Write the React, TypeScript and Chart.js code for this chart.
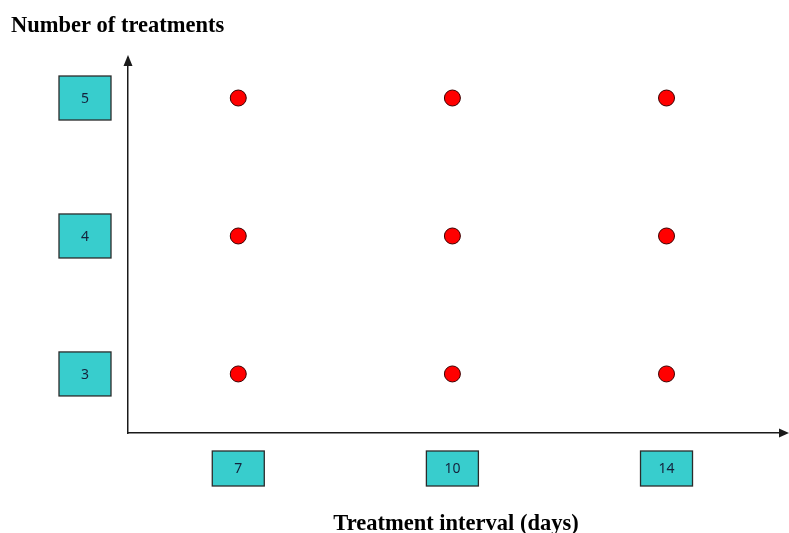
import React, { useEffect, useRef } from "react";
import { Chart, registerables } from "chart.js";

Chart.register(...registerables);

const intervalLabels = ["7", "10", "14"];
const treatmentCounts = [3, 4, 5];
const yTitle = "Number of treatments";
const xTitle = "Treatment interval (days)";

const BOX_FILL = "#38CDCD";
const BOX_STROKE = "#2b2b2b";
const BOX_TEXT = "#14223c";
const AXIS_COLOR = "#1a1a1a";

const decorPlugin = {
  id: "decor",
  afterDraw(chart: any) {
    const { ctx, chartArea, scales } = chart;
    const xs = scales.x;
    const ys = scales.y;
    ctx.save();

    // arrowheads
    ctx.fillStyle = AXIS_COLOR;
    ctx.beginPath();
    ctx.moveTo(chartArea.left, chartArea.top - 3);
    ctx.lineTo(chartArea.left - 4.5, chartArea.top + 8);
    ctx.lineTo(chartArea.left + 4.5, chartArea.top + 8);
    ctx.closePath();
    ctx.fill();

    ctx.beginPath();
    ctx.moveTo(chartArea.right + 9, chartArea.bottom);
    ctx.lineTo(chartArea.right - 1, chartArea.bottom - 4.5);
    ctx.lineTo(chartArea.right - 1, chartArea.bottom + 4.5);
    ctx.closePath();
    ctx.fill();

    const drawBox = (cx: number, cy: number, w: number, h: number, label: string) => {
      ctx.fillStyle = BOX_FILL;
      ctx.fillRect(cx - w / 2, cy - h / 2, w, h);
      ctx.strokeStyle = BOX_STROKE;
      ctx.lineWidth = 1.3;
      ctx.strokeRect(cx - w / 2, cy - h / 2, w, h);
      ctx.fillStyle = BOX_TEXT;
      ctx.font = '14px "Noto Sans"';
      ctx.textAlign = "center";
      ctx.textBaseline = "middle";
      ctx.fillText(label, cx, cy + 1);
    };

    intervalLabels.forEach((lab, i) => {
      const px = xs.getPixelForValue(i);
      drawBox(px, chartArea.bottom + 35.5, 52, 35, lab);
    });
    treatmentCounts.forEach((v) => {
      const py = ys.getPixelForValue(v);
      drawBox(chartArea.left - 43, py, 52, 44, String(v));
    });

    ctx.fillStyle = "#000";
    ctx.font = 'bold 22.5px "Liberation Serif"';
    ctx.textBaseline = "alphabetic";
    ctx.textAlign = "left";
    ctx.fillText(yTitle, 11, 32);
    ctx.textAlign = "center";
    ctx.fillText(xTitle, 456, 530);

    ctx.restore();
  },
};

export default function App() {
  const ref = useRef<HTMLCanvasElement | null>(null);

  useEffect(() => {
    if (!ref.current) return;
    const data = intervalLabels.flatMap((_, i) =>
      treatmentCounts.map((y) => ({ x: i, y }))
    );
    const chart = new Chart(ref.current, {
      type: "scatter",
      data: {
        datasets: [
          {
            data,
            pointRadius: 8,
            pointBackgroundColor: "#FF0000",
            pointBorderColor: "#3a0000",
            pointBorderWidth: 1,
          },
        ],
      },
      options: {
        animation: false,
        responsive: true,
        maintainAspectRatio: false,
        layout: { padding: { top: 58, right: 0, left: 0, bottom: 0 } },
        plugins: { legend: { display: false }, tooltip: { enabled: false } },
        scales: {
          x: {
            type: "linear",
            min: -0.515,
            max: 2.53,
            afterFit: (s: any) => {
              s.height = 100;
            },
            afterBuildTicks: (s: any) => {
              s.ticks = intervalLabels.map((_, i) => ({ value: i }));
            },
            ticks: { display: false },
            grid: { display: false },
            border: { display: true, color: AXIS_COLOR, width: 1.5 },
          },
          y: {
            type: "linear",
            min: 2.572,
            max: 5.29,
            afterFit: (s: any) => {
              s.width = 128;
            },
            afterBuildTicks: (s: any) => {
              s.ticks = treatmentCounts.map((v) => ({ value: v }));
            },
            ticks: { display: false },
            grid: { display: false },
            border: { display: true, color: AXIS_COLOR, width: 1.5 },
          },
        },
      },
      plugins: [decorPlugin],
    });
    return () => chart.destroy();
  }, []);

  return (
    <div
      style={{
        position: "fixed",
        left: 0,
        top: 0,
        width: 789,
        height: 533,
        background: "#fff",
      }}
    >
      <canvas ref={ref} />
    </div>
  );
}
